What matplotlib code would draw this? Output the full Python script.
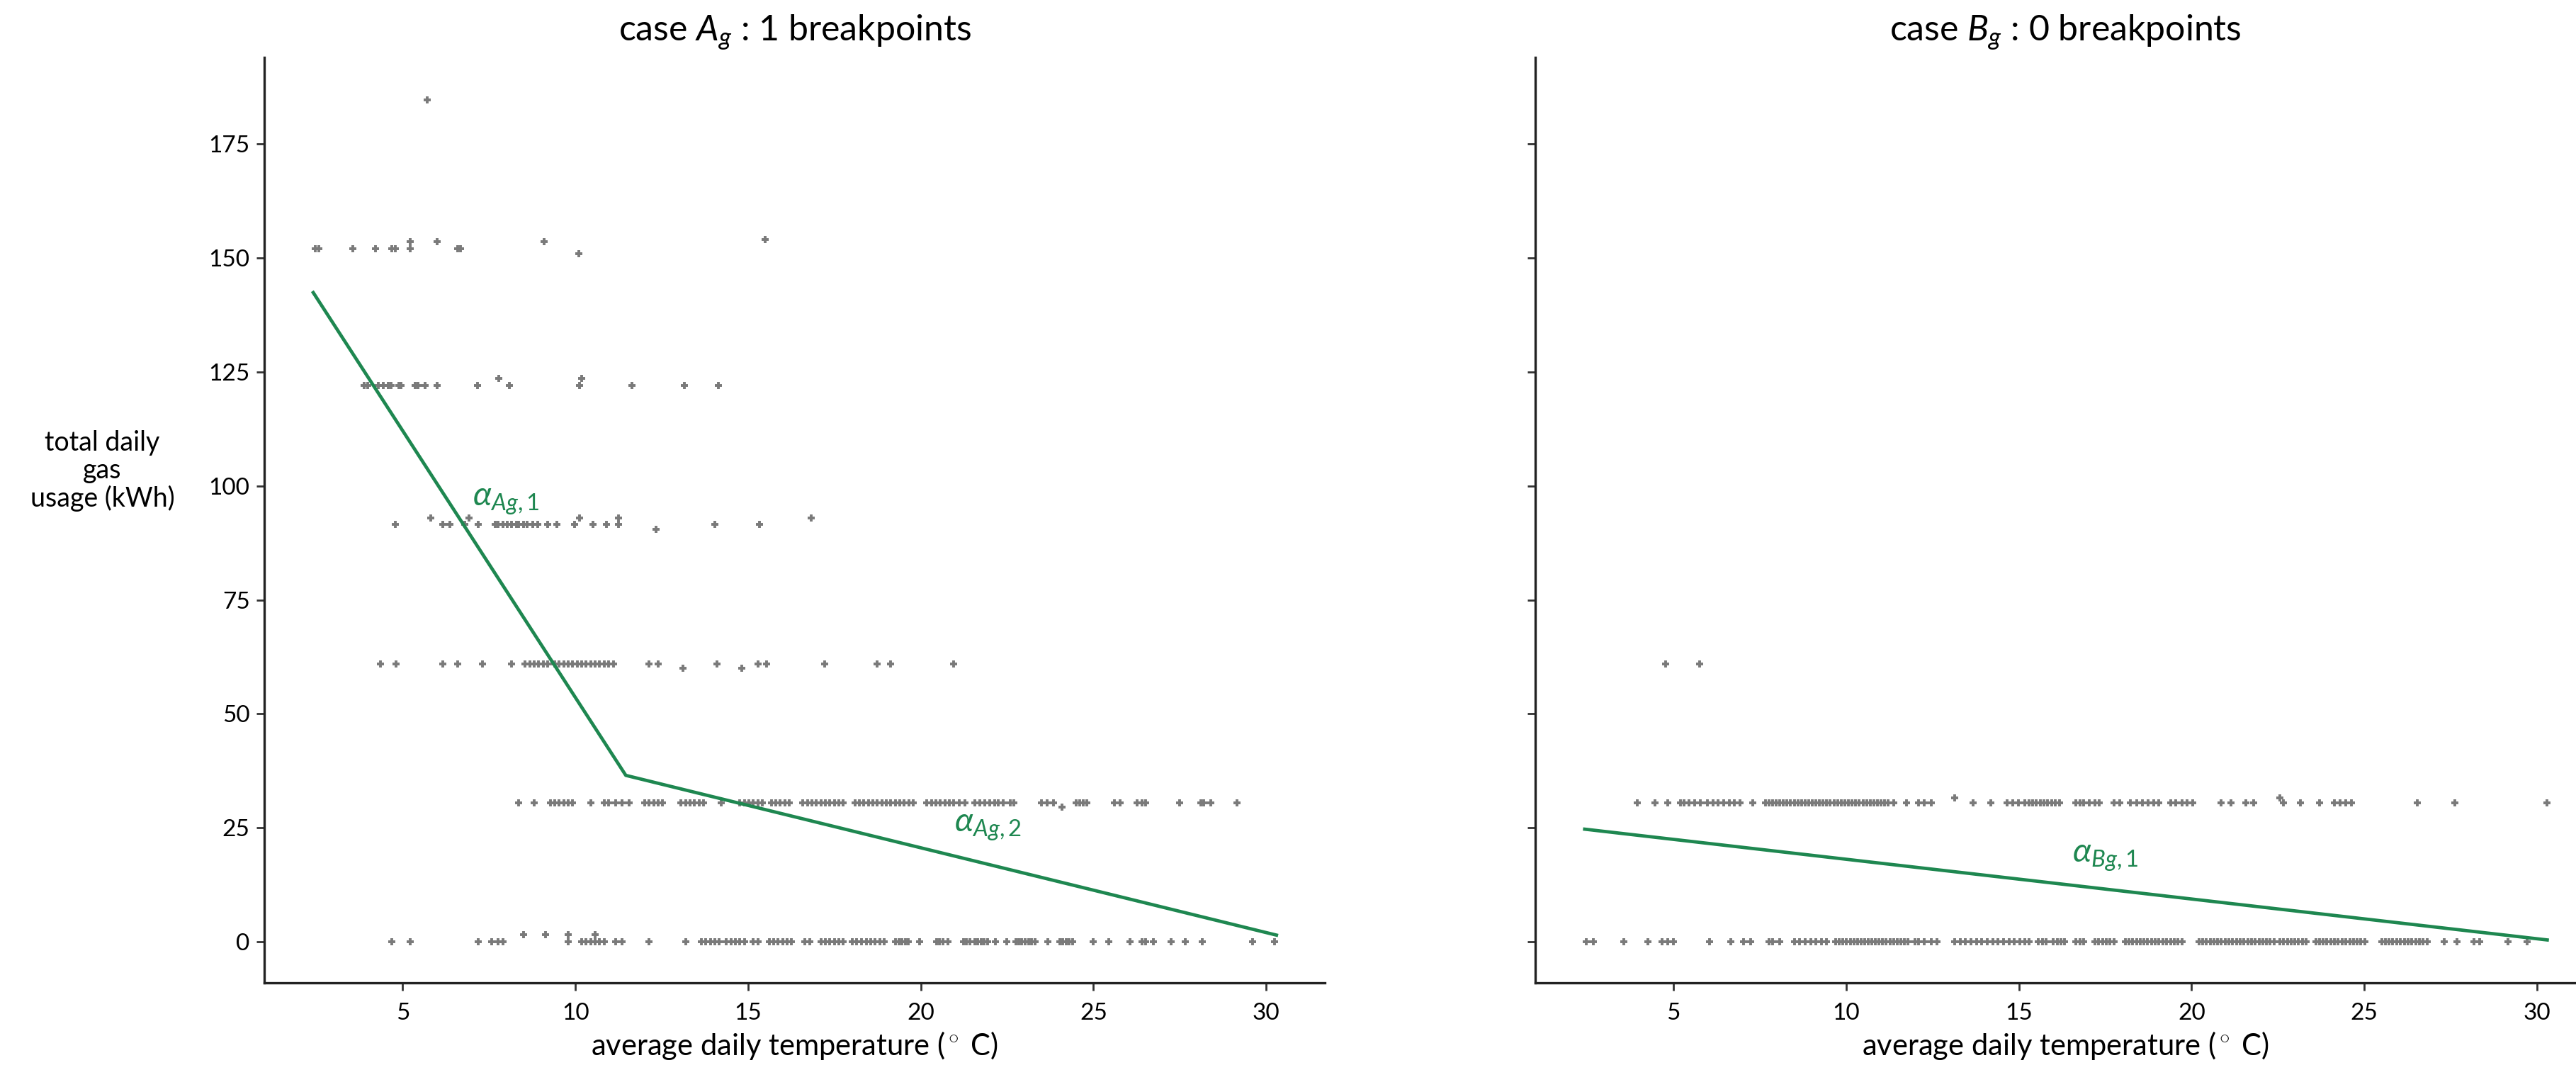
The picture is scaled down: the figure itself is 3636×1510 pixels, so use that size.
import matplotlib
matplotlib.use("Agg")
import matplotlib.pyplot as plt

plt.rcParams["font.family"] = ["Lato", "DejaVu Sans"]
plt.rcParams["mathtext.fontset"] = "custom"
plt.rcParams["mathtext.rm"] = "Lato"
plt.rcParams["mathtext.it"] = "Lato:italic"

# ---------------- case A_g : daily usage levels (kWh) and temperatures ----------------
a_levels = [0.0, 30.5, 61.0, 91.5, 122.0, 152.0]

a_temp_0 = [4.69, 5.22, 7.18, 7.57, 7.77, 7.9, 9.79, 10.18, 10.31, 10.45, 10.58, 10.7, 10.84,
            11.16, 11.36, 12.14, 13.19, 13.65, 13.78, 13.91, 14.04, 14.17, 14.37, 14.5, 14.63,
            14.75, 14.89, 15.15, 15.28, 15.61, 15.74, 15.87, 16.0, 16.13, 16.26, 16.65, 16.78,
            17.11, 17.24, 17.37, 17.5, 17.63, 17.76, 18.02, 18.15, 18.28, 18.42, 18.55, 18.68,
            18.81, 18.94, 19.27, 19.37, 19.46, 19.55, 19.64, 19.96, 20.46, 20.55, 20.65, 20.78,
            21.24, 21.33, 21.42, 21.56, 21.65, 21.75, 21.84, 21.93, 22.16, 22.48, 22.75, 22.84,
            22.93, 23.03, 23.12, 23.21, 23.3, 23.67, 24.03, 24.12, 24.21, 24.3, 24.4, 24.99,
            25.45, 26.05, 26.41, 26.5, 26.73, 27.24, 27.65, 28.15, 29.6, 30.25]
a_temp_30 = [8.35, 8.81, 9.27, 9.4, 9.53, 9.66, 9.79, 9.92, 10.45, 10.84, 10.97, 11.16, 11.36,
             11.56, 12.01, 12.14, 12.27, 12.4, 12.53, 13.06, 13.19, 13.32, 13.45, 13.58, 13.71,
             14.23, 14.75, 14.89, 15.02, 15.15, 15.28, 15.41, 15.67, 15.8, 15.93, 16.06, 16.19,
             16.59, 16.72, 16.85, 16.98, 17.11, 17.24, 17.37, 17.5, 17.63, 17.76, 18.09, 18.22,
             18.35, 18.48, 18.61, 18.74, 18.87, 19.0, 19.13, 19.27, 19.39, 19.52, 19.66, 19.79,
             20.18, 20.31, 20.44, 20.57, 20.7, 20.83, 20.96, 21.12, 21.28, 21.56, 21.7, 21.85,
             22.0, 22.15, 22.25, 22.38, 22.6, 22.7, 23.5, 23.65, 23.85, 24.5, 24.6, 24.7, 24.8,
             25.6, 25.77, 26.27, 26.4, 26.5, 27.5, 28.1, 28.2, 28.4, 29.16]
a_temp_61 = [4.36, 4.8, 6.16, 6.59, 7.31, 8.16, 8.55, 8.68, 8.81, 8.94, 9.07, 9.2, 9.4, 9.53,
             9.66, 9.79, 9.92, 10.05, 10.18, 10.31, 10.45, 10.58, 10.7, 10.84, 10.97, 11.1,
             12.14, 12.4, 14.1, 15.28, 15.54, 17.22, 18.74, 19.13, 20.96]
a_temp_91 = [4.78, 6.16, 6.37, 6.79, 7.18, 7.67, 7.77, 7.9, 8.03, 8.16, 8.29, 8.35, 8.49, 8.61,
             8.77, 8.9, 9.2, 9.47, 9.98, 10.51, 10.9, 11.25, 14.04, 15.34]
a_temp_122 = [3.88, 3.98, 4.3, 4.43, 4.59, 4.67, 4.89, 4.95, 5.37, 5.45, 5.64, 6.0, 7.17, 8.09,
              10.12, 11.64, 13.16, 14.14]
a_temp_152 = [2.47, 2.58, 3.55, 4.22, 4.69, 4.78, 5.22, 6.59, 6.68]

# readings sitting slightly off the metered levels
a_off_temp = [8.49, 9.14, 9.79, 10.58, 24.08, 13.12, 14.82, 5.81, 6.92, 10.12, 11.25, 16.82,
              12.34, 7.79, 10.18, 10.09, 5.22, 6.0, 9.1, 15.5, 5.7]
a_off_usage = [1.5, 1.5, 1.5, 1.5, 29.5, 60.0, 60.0, 93.0, 93.0, 93.0, 93.0, 93.0,
               90.5, 123.5, 123.5, 151.0, 153.5, 153.5, 153.5, 154.0, 184.6]

# piecewise fit, one breakpoint
a_fit_temp = [2.41, 11.46, 30.3]
a_fit_usage = [142.4, 36.5, 1.46]

# ---------------- case B_g ----------------
b_levels = [0.0, 30.5, 61.0]

b_temp_0 = [2.48, 2.69, 3.56, 4.26, 4.68, 4.84, 4.99, 6.04, 6.67, 7.03, 7.24, 7.76, 7.87, 8.08,
            8.5, 8.65, 8.81, 8.97, 9.12, 9.28, 9.44, 9.7, 9.8, 9.91, 10.01, 10.12, 10.22, 10.33,
            10.43, 10.54, 10.64, 10.74, 10.85, 10.95, 11.06, 11.16, 11.27, 11.37, 11.48, 11.58,
            11.69, 11.79, 12.0, 12.1, 12.26, 12.47, 12.62, 13.15, 13.3, 13.46, 13.62, 13.77,
            13.93, 14.09, 14.25, 14.4, 14.56, 14.72, 14.87, 15.03, 15.18, 15.29, 15.57, 15.68,
            15.79, 16.0, 16.11, 16.22, 16.33, 16.66, 16.77, 16.88, 17.2, 17.31, 17.42, 17.53,
            17.64, 17.75, 18.08, 18.19, 18.3, 18.41, 18.52, 18.62, 18.73, 18.84, 18.95, 19.06,
            19.17, 19.28, 19.39, 19.5, 19.61, 19.72, 20.21, 20.32, 20.43, 20.54, 20.65, 20.76,
            20.86, 20.97, 21.08, 21.19, 21.3, 21.41, 21.52, 21.63, 21.74, 21.85, 21.96, 22.07,
            22.17, 22.28, 22.39, 22.56, 22.67, 22.78, 22.89, 22.99, 23.1, 23.21, 23.32, 23.6,
            23.7, 23.81, 23.92, 24.03, 24.14, 24.25, 24.36, 24.47, 24.58, 24.69, 24.8, 24.9,
            25.01, 25.51, 25.62, 25.72, 25.83, 25.94, 26.05, 26.16, 26.27, 26.38, 26.49, 26.6,
            26.71, 26.82, 27.31, 27.69, 28.18, 28.35, 29.17, 29.71]
b_temp_30 = [3.95, 4.47, 4.84, 5.2, 5.31, 5.46, 5.62, 5.78, 5.99, 6.14, 6.3, 6.46, 6.61, 6.77,
             6.93, 7.3, 7.66, 7.76, 7.87, 7.97, 8.08, 8.18, 8.29, 8.39, 8.5, 8.6, 8.71, 8.81,
             8.92, 9.02, 9.12, 9.23, 9.33, 9.44, 9.54, 9.65, 9.75, 9.86, 9.96, 10.07, 10.17,
             10.28, 10.38, 10.49, 10.59, 10.7, 10.8, 10.9, 11.01, 11.11, 11.21, 11.37, 11.74,
             12.1, 12.26, 12.47, 13.67, 14.19, 14.66, 14.82, 14.98, 15.18, 15.29, 15.4, 15.51,
             15.62, 15.73, 15.84, 15.95, 16.06, 16.17, 16.66, 16.77, 16.88, 17.04, 17.2, 17.32,
             17.75, 17.92, 18.24, 18.41, 18.57, 18.74, 18.9, 19.06, 19.39, 19.55, 19.72, 19.88,
             20.04, 20.86, 21.14, 21.57, 21.79, 22.67, 23.16, 23.7, 24.14, 24.3, 24.47, 24.63,
             26.54, 27.63, 30.3]
b_temp_61 = [4.78, 5.75]

b_off_temp = [13.15, 22.56]
b_off_usage = [31.5, 31.5]

# linear fit, no breakpoint
b_fit_temp = [2.43, 30.3]
b_fit_usage = [24.7, 0.4]

x_ticks = [5, 10, 15, 20, 25, 30]
y_ticks = [0, 25, 50, 75, 100, 125, 150, 175]

GREEN = "#1e8750"
GREY = "#7a7a7a"

fig = plt.figure(figsize=(18.18, 7.55), dpi=200)
ax1 = fig.add_axes([0.1027, 0.0815, 0.4116, 0.8649])
ax2 = fig.add_axes([0.596, 0.0815, 0.4116, 0.8649], sharey=ax1)


def scatter_rows(ax, rows, levels, off_t, off_u):
    for temps, lvl in zip(rows, levels):
        ax.plot(temps, [lvl] * len(temps), linestyle="none", marker="+", markersize=3.8,
                markeredgewidth=1.4, color=GREY, zorder=2)
    ax.plot(off_t, off_u, linestyle="none", marker="+", markersize=3.8,
            markeredgewidth=1.4, color=GREY, zorder=2)


scatter_rows(ax1, [a_temp_0, a_temp_30, a_temp_61, a_temp_91, a_temp_122, a_temp_152],
             a_levels, a_off_temp, a_off_usage)
scatter_rows(ax2, [b_temp_0, b_temp_30, b_temp_61], b_levels, b_off_temp, b_off_usage)

ax1.plot(a_fit_temp, a_fit_usage, color=GREEN, linewidth=1.7, zorder=3)
ax2.plot(b_fit_temp, b_fit_usage, color=GREEN, linewidth=1.7, zorder=3)

ax1.text(8.0, 96.5, r"$\alpha_{Ag,1}$", color=GREEN, fontsize=17, ha="center", va="center")
ax1.text(21.95, 25.0, r"$\alpha_{Ag,2}$", color=GREEN, fontsize=17, ha="center", va="center")
ax2.text(17.5, 18.4, r"$\alpha_{Bg,1}$", color=GREEN, fontsize=17, ha="center", va="center")

ax1.set_title(r"case $A_g$ : 1 breakpoints", fontsize=18, pad=9)
ax2.set_title(r"case $B_g$ : 0 breakpoints", fontsize=18, pad=9)

for ax in (ax1, ax2):
    ax.set_xlim(1.0, 31.7)
    ax.set_ylim(-9, 194)
    ax.set_xticks(x_ticks)
    ax.set_yticks(y_ticks)
    ax.spines["top"].set_visible(False)
    ax.spines["right"].set_visible(False)
    for s in ("left", "bottom"):
        ax.spines[s].set_linewidth(1.2)
        ax.spines[s].set_color("#222222")
    ax.tick_params(axis="both", length=4, width=1.0, color="#333333", labelsize=12)
    ax.tick_params(axis="x", pad=6)
    ax.set_xlabel(r"average daily temperature ($^\circ$ C)", fontsize=15, labelpad=3)

ax2.tick_params(axis="y", labelleft=False)

ax1.set_ylabel("total daily\ngas\nusage (kWh)", rotation=0, fontsize=13.5,
               ha="center", va="center", linespacing=1.1)
ax1.yaxis.set_label_coords(-0.153, 0.553)

fig.savefig("out.png", dpi=200)
